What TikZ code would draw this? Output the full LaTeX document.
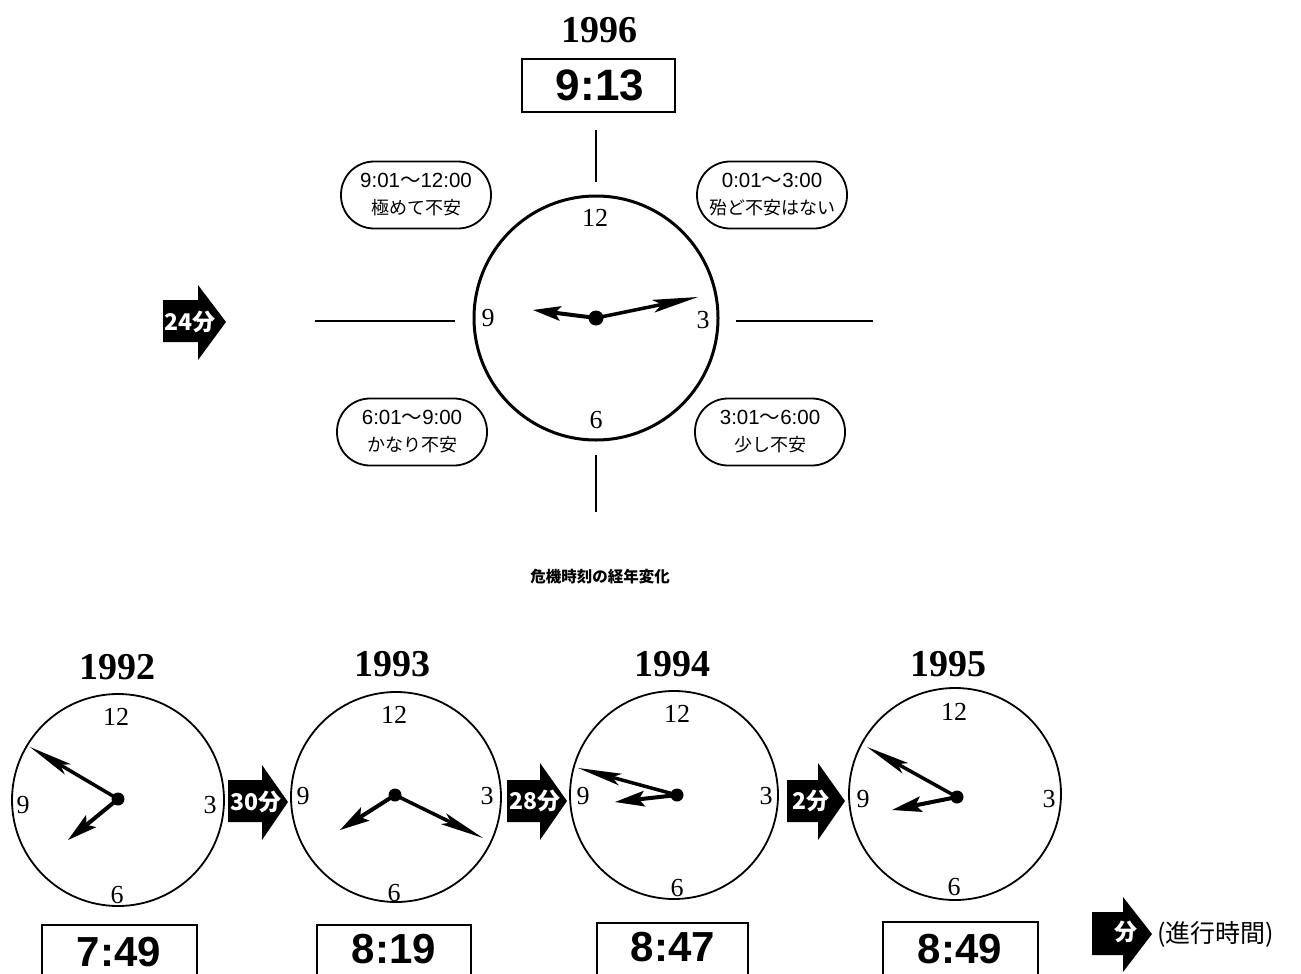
\documentclass[tikz,border=0pt]{standalone}
\usepackage{fontspec}
\setmainfont{Liberation Serif}
\newfontfamily\jpf{Noto Sans CJK JP}
\newfontfamily\arl{Liberation Sans}
\usetikzlibrary{calc}
\tikzset{
  yearlbl/.style={font=\fontsize{38}{40}\selectfont\bfseries, anchor=base, inner sep=0},
  numlbl/.style={font=\fontsize{26}{28}\selectfont, inner sep=0},
  timeboxline/.style={draw, line width=2pt},
  timetext/.style={font=\arl\fontsize{42}{46}\selectfont\bfseries, anchor=base, inner sep=0},
  bubble/.style={draw, line width=1.8pt, rounded corners=33pt, minimum width=150pt, minimum height=67pt, align=center, font=\jpf\fontsize{18}{27}\selectfont, inner sep=0},
  arrtext/.style={text=white, font=\jpf\bfseries\fontsize{23}{24}\selectfont, inner sep=0},
  clockface/.style={circle, draw, inner sep=0, line width=1.8pt},
  crossline/.style={line width=1.3pt},
}
\newcommand{\rng}[2]{{\arl\fontsize{20.5}{27}\selectfont #1}{\fontsize{20.5}{27}\selectfont 〜}{\arl\fontsize{20.5}{27}\selectfont #2}}
% center, tip, head length, head half width, shaft width
\newcommand{\clockhand}[5]{%
  \coordinate (hb) at ($(#2)!#3!(#1)$);
  \coordinate (hn) at ($(#2)!{0.8*#3}!(#1)$);
  \draw[line width=#5] (#1) -- (hn);
  \fill (#2) -- ($(hb)!#4!90:(#2)$) -- (hn) -- ($(hb)!#4!-90:(#2)$) -- cycle;
}
% x0, xh, xtip, body top, body bottom, head top, head bottom, mid
\newcommand{\blockarr}[8]{%
  \fill (#1,#4) -- (#2,#4) -- (#2,#6) -- (#3,#8) -- (#2,#7) -- (#2,#5) -- (#1,#5) -- cycle;
}
\begin{document}
\begin{tikzpicture}[x=1pt,y=-1pt]
\useasboundingbox (0,0) rectangle (1301,974);
\clip (0,0) rectangle (1301,974);
\fill[white] (0,0) rectangle (1301,974);

% ---------- top clock ----------
\node[yearlbl] (y96) at (599,43) {1996};
\draw[line width=2.5pt] (522,59) rectangle (675,112);
\node[timetext, font=\arl\fontsize{44}{46}\selectfont\bfseries] (t96) at (600,100) {9:13};

\node[clockface, line width=3pt, minimum size=244pt] (c96) at (596,318) {};
\node[numlbl] (c96n12) at (595,218) {12};
\node[numlbl] (c96n9) at (488,318) {9};
\node[numlbl] (c96n3) at (703,320) {3};
\node[numlbl] (c96n6) at (596,420) {6};
\coordinate (h96) at (596,318);
\coordinate (m96tip) at (698,297);
\coordinate (h96tip) at (533,310);
\clockhand{h96}{m96tip}{46pt}{6.5pt}{3.5pt}
\clockhand{h96}{h96tip}{28pt}{7.5pt}{4pt}
\fill (h96) circle (7.5);

\coordinate (lt1) at (596,130); \coordinate (lt2) at (596,182);
\coordinate (lb1) at (596,455); \coordinate (lb2) at (596,512);
\coordinate (ll1) at (315,321); \coordinate (ll2) at (455,321);
\coordinate (lr1) at (736,321); \coordinate (lr2) at (873,321);
\draw[crossline] (lt1) -- (lt2);
\draw[crossline] (lb1) -- (lb2);
\draw[crossline] (ll1) -- (ll2);
\draw[crossline] (lr1) -- (lr2);

\node[bubble] (bTL) at (416,195) {\rng{9:01}{12:00}\\極めて不安};
\node[bubble] (bTR) at (772,195) {\rng{0:01}{3:00}\\殆ど不安はない};
\node[bubble] (bBL) at (412,432) {\rng{6:01}{9:00}\\かなり不安};
\node[bubble] (bBR) at (770,432) {\rng{3:01}{6:00}\\少し不安};

\blockarr{163}{198}{226}{300}{342}{285}{360}{322}
\node[arrtext] (a24) at (190,322) {24分};

\node[font=\jpf\bfseries\fontsize{15.5}{17}\selectfont, inner sep=0] (cap) at (600,577) {危機時刻の経年変化};

% ---------- bottom clocks ----------
% 1992
\node[yearlbl] (y92) at (117,679) {1992};
\node[clockface, minimum size=212pt] (c92) at (118,800) {};
\node[numlbl] (c92n12) at (116,717) {12};
\node[numlbl] (c92n9) at (23,805) {9};
\node[numlbl] (c92n3) at (210,805) {3};
\node[numlbl] (c92n6) at (117,895) {6};
\coordinate (h92) at (118,799);
\coordinate (m92tip) at (30,747);
\coordinate (h92tip) at (68,840);
\clockhand{h92}{m92tip}{44pt}{6pt}{3.5pt}
\clockhand{h92}{h92tip}{30pt}{8pt}{4pt}
\fill (h92) circle (6.5);
\draw[timeboxline] (42,925) rectangle (197,995);
\node[timetext] (t92) at (119,966) {7:49};

\blockarr{228}{262}{288}{780}{822}{765}{840}{802}
\node[arrtext] (a30) at (256,802) {30分};

% 1993
\node[yearlbl] (y93) at (392,676) {1993};
\node[clockface, minimum size=210pt] (c93) at (396,797) {};
\node[numlbl] (c93n12) at (394,715) {12};
\node[numlbl] (c93n9) at (303,796) {9};
\node[numlbl] (c93n3) at (487,796) {3};
\node[numlbl] (c93n6) at (394,893) {6};
\coordinate (h93) at (395,795);
\coordinate (m93tip) at (483,838);
\coordinate (h93tip) at (340,830);
\clockhand{h93}{m93tip}{44pt}{6pt}{3.5pt}
\clockhand{h93}{h93tip}{30pt}{8pt}{4pt}
\fill (h93) circle (6.5);
\draw[timeboxline] (317,925) rectangle (471,995);
\node[timetext] (t93) at (394,963) {8:19};

\blockarr{507}{540}{567}{780}{822}{763}{840}{801}
\node[arrtext] (a28) at (535,801) {28分};

% 1994
\node[yearlbl] (y94) at (672,676) {1994};
\node[clockface, minimum size=208pt] (c94) at (674,795) {};
\node[numlbl] (c94n12) at (677,714) {12};
\node[numlbl] (c94n9) at (583,796) {9};
\node[numlbl] (c94n3) at (766,796) {3};
\node[numlbl] (c94n6) at (677,888) {6};
\coordinate (h94) at (677,795);
\coordinate (m94tip) at (578,768);
\coordinate (h94tip) at (615,802);
\clockhand{h94}{m94tip}{44pt}{6pt}{3.5pt}
\clockhand{h94}{h94tip}{30pt}{8pt}{4pt}
\fill (h94) circle (6.5);
\draw[timeboxline] (597,923) rectangle (748,995);
\node[timetext] (t94) at (673,961) {8:47};

\blockarr{787}{818}{845}{780}{822}{763}{840}{801}
\node[arrtext] (a2) at (811,801) {2分};

% 1995
\node[yearlbl] (y95) at (948,676) {1995};
\node[clockface, minimum size=212pt] (c95) at (955,794) {};
\node[numlbl] (c95n12) at (954,712) {12};
\node[numlbl] (c95n9) at (863,799) {9};
\node[numlbl] (c95n3) at (1049,799) {3};
\node[numlbl] (c95n6) at (954,887) {6};
\coordinate (h95) at (957,797);
\coordinate (m95tip) at (867,747);
\coordinate (h95tip) at (892,810);
\clockhand{h95}{m95tip}{44pt}{6pt}{3.5pt}
\clockhand{h95}{h95tip}{30pt}{8pt}{4pt}
\fill (h95) circle (6.5);
\draw[timeboxline] (883,922) rectangle (1038,995);
\node[timetext] (t95) at (960,963) {8:49};

% legend
\blockarr{1092}{1123}{1152}{912}{955}{897}{972}{934}
\node[arrtext] (afen) at (1126,932) {分};
\node[font=\jpf\fontsize{25}{27}\selectfont, anchor=west, inner sep=0] (leg) at (1157,934) {(進行時間)};
\end{tikzpicture}
\end{document}
